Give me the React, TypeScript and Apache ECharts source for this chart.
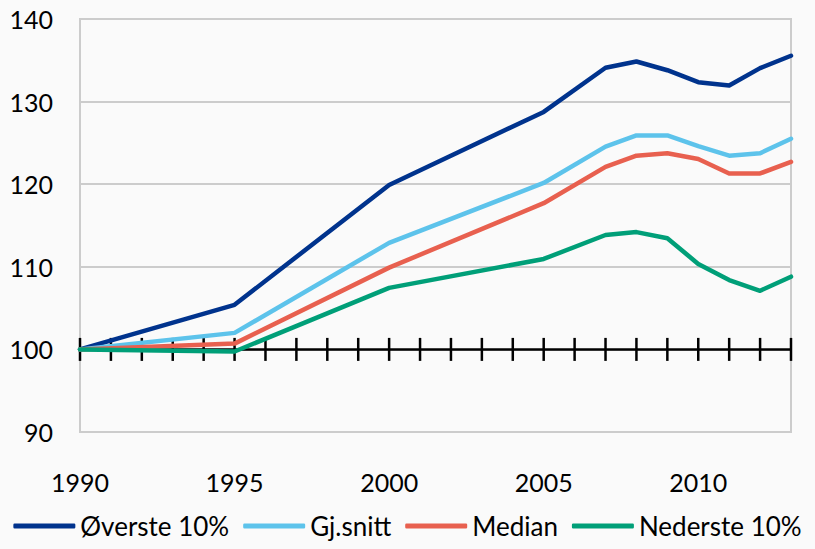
import React, { useEffect, useRef } from "react";
import * as echarts from "echarts";

const years = [1990, 1995, 2000, 2005, 2007, 2008, 2009, 2010, 2011, 2012, 2013];
const tickYears = [1990, 1991, 1992, 1993, 1994, 1995, 1996, 1997, 1998, 1999, 2000, 2001, 2002, 2003, 2004, 2005, 2006, 2007, 2008, 2009, 2010, 2011, 2012, 2013];
const overste = [100, 105.4, 119.9, 128.75, 134.1, 134.85, 133.8, 132.35, 131.95, 134.05, 135.55];
const gjsnitt = [100, 102.0, 112.9, 120.15, 124.55, 125.9, 125.9, 124.6, 123.45, 123.75, 125.5];
const median = [100, 100.7, 109.9, 117.7, 122.1, 123.45, 123.75, 123.05, 121.3, 121.3, 122.7];
const nederste = [100, 99.75, 107.45, 110.95, 113.85, 114.2, 113.45, 110.35, 108.4, 107.1, 108.8];
const seriesNames = ["Øverste 10%", "Gj.snitt", "Median", "Nederste 10%"];
const colors = ["#00338D", "#5DC3EB", "#E8604F", "#009F78"];
const yTicks = { min: 90, max: 140, interval: 10 };
const baseValue = 100;

const FONT = "Lato, 'Open Sans', sans-serif";

export default function App() {
  const ref = useRef<HTMLDivElement>(null);
  useEffect(() => {
    if (!ref.current) return;
    const chart = echarts.init(ref.current, null, { renderer: "svg" });
    const all = [overste, gjsnitt, median, nederste];
    const lineSeries = all.map((vals, i) => ({
      name: seriesNames[i],
      type: "line",
      data: years.map((y, j) => [y, vals[j]]),
      symbol: "none",
      lineStyle: { width: 4.5, color: colors[i], cap: "round", join: "round" },
      itemStyle: { color: colors[i] },
      z: 5 + i,
    }));
    chart.setOption({
      animation: false,
      backgroundColor: "#fafafa",
      textStyle: { fontFamily: FONT },
      grid: { left: 80, right: 24, top: 19, bottom: 117, show: true, borderColor: "#cccccc", borderWidth: 2, containLabel: false },
      legend: {
        bottom: 5,
        left: "center",
        icon: "roundRect",
        itemWidth: 62,
        itemHeight: 5,
        itemGap: 14,
        data: seriesNames,
        textStyle: { fontFamily: FONT, fontSize: 26, color: "#000" },
      },
      xAxis: {
        type: "value",
        min: 1990,
        max: 2013,
        interval: 1,
        axisLine: { show: false },
        axisTick: { show: false },
        splitLine: { show: false },
        axisLabel: {
          margin: 37,
          fontSize: 25,
          color: "#000",
          fontFamily: FONT,
          formatter: (v: number) => (v % 5 === 0 ? String(v) : ""),
        },
      },
      yAxis: {
        type: "value",
        min: yTicks.min,
        max: yTicks.max,
        interval: yTicks.interval,
        axisLine: { show: true, lineStyle: { color: "#cccccc", width: 2 } },
        axisTick: { show: false },
        splitLine: { show: true, lineStyle: { color: "#cccccc", width: 2 } },
        axisLabel: { margin: 27, fontSize: 25, color: "#000", fontFamily: FONT },
      },
      series: [
        {
          type: "custom",
          silent: true,
          z: 2,
          data: tickYears.map((y) => [y, baseValue]),
          renderItem: (params: any, api: any) => {
            const p = api.coord([api.value(0), api.value(1)]);
            return {
              type: "line",
              shape: { x1: p[0], y1: p[1] - 11.5, x2: p[0], y2: p[1] + 11.5 },
              style: { stroke: "#000", lineWidth: 2.5 },
            };
          },
          markLine: {
            silent: true,
            symbol: "none",
            label: { show: false },
            lineStyle: { color: "#000", width: 2.5, type: "solid" },
            data: [{ yAxis: baseValue }],
          },
        },
        ...lineSeries,
      ],
    });
    return () => chart.dispose();
  }, []);
  return <div ref={ref} style={{ position: "fixed", left: 0, top: 0, width: 815, height: 549 }} />;
}
